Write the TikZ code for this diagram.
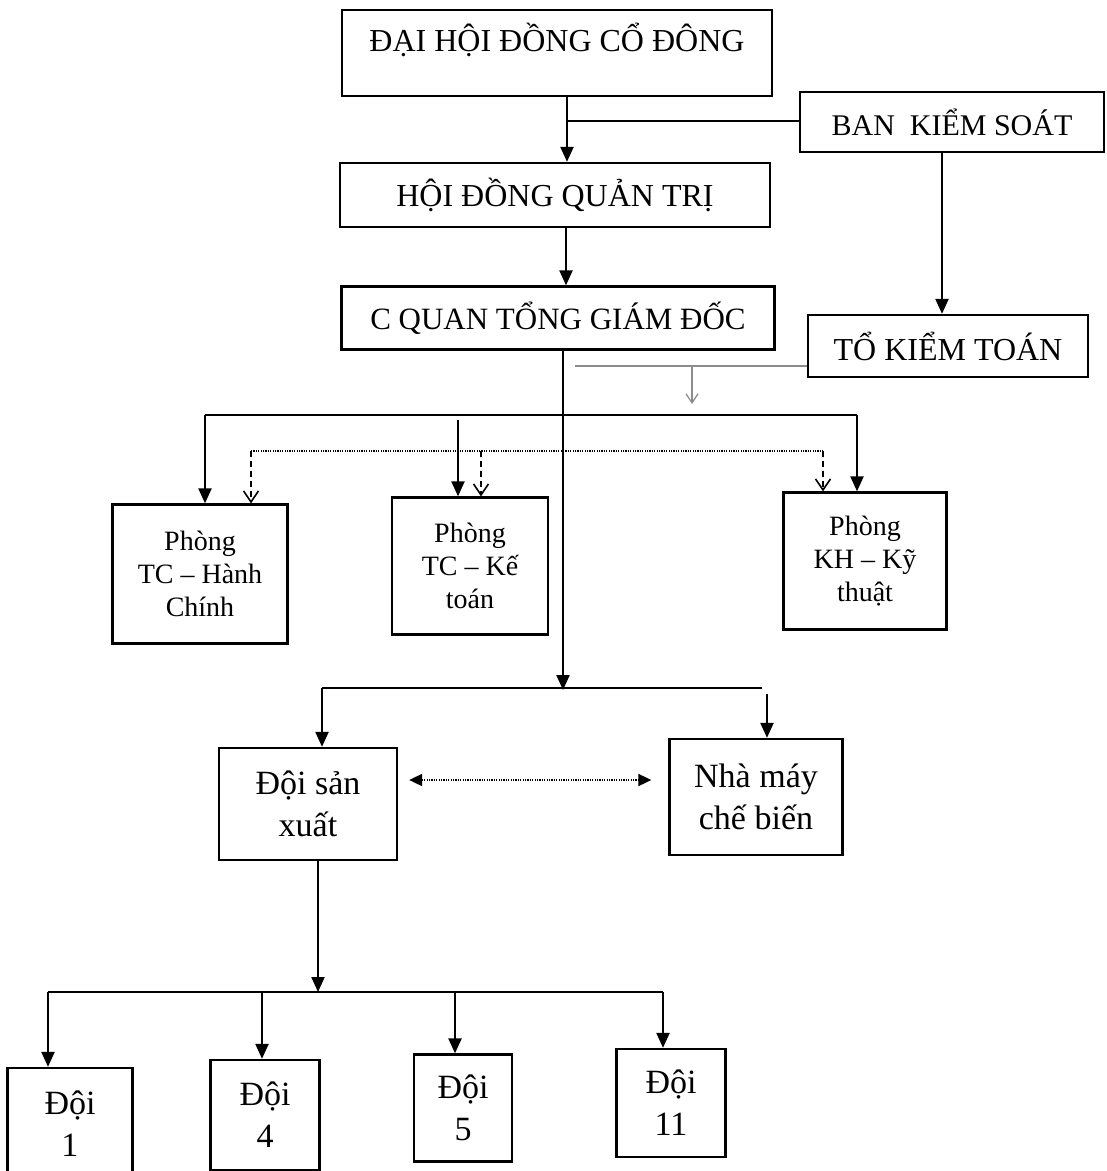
\documentclass[tikz,border=0pt]{standalone}
\usepackage{fontspec}
\setmainfont{Liberation Serif}
\usetikzlibrary{arrows.meta}
\begin{document}
\begin{tikzpicture}[x=1pt,y=-1pt,
  box/.style={draw, line width=2.3pt, inner sep=0pt, align=center},
  ln/.style={line width=2.2pt},
  arr/.style={line width=2.2pt, -{Triangle[length=15pt,width=13pt]}},
  dsh/.style={line width=1.6pt, dash pattern=on 6pt off 4pt, -{Straight Barb[length=11pt,width=15pt,line width=1.6pt]}},
  dotl/.style={line width=1.8pt, dash pattern=on 1.2pt off 1.2pt},
  graylink/.style={draw=black!45, line width=1.3pt},
  big/.style={font=\fontsize{32}{38}\selectfont},
  mid/.style={font=\fontsize{28}{33}\selectfont},
  doi/.style={font=\fontsize{34}{42}\selectfont},
]
\useasboundingbox (0,0) rectangle (1107,1171);

% boxes
\node[box, minimum width=430pt, minimum height=86pt] (dh) at (557,53) {};
\node[big] (dht) at (557,40) {ĐẠI HỘI ĐỒNG CỔ ĐÔNG};
\node[box, minimum width=304pt, minimum height=60pt, font=\fontsize{30}{36}\selectfont] (bks) at (952,122) {BAN\ \ KIỂM SOÁT};
\node[box, big, minimum width=430pt, minimum height=64pt] (hd) at (555,195) {HỘI ĐỒNG QUẢN TRỊ};
\node[box, minimum width=433pt, minimum height=63pt, font=\fontsize{31}{36}\selectfont] (cq) at (558,318) {C QUAN TỔNG GIÁM ĐỐC};
\node[box, big, minimum width=280pt, minimum height=62pt] (tkt) at (948,346) {TỔ KIỂM TOÁN};

\node[box, mid, minimum width=175pt, minimum height=139pt] (p1) at (200,574) {Phòng\\TC – Hành\\Chính};
\node[box, mid, minimum width=156pt, minimum height=137pt] (p2) at (470,566) {Phòng\\TC – Kế\\toán};
\node[box, mid, minimum width=163pt, minimum height=137pt] (p3) at (865,561) {Phòng\\KH – Kỹ\\thuật};

\node[box, doi, minimum width=178pt, minimum height=112pt] (ds) at (308,804) {Đội sản\\xuất};
\node[box, doi, minimum width=173pt, minimum height=116pt] (nm) at (756,797) {Nhà máy\\chế biến};

\node[box, doi, minimum width=125pt, minimum height=112pt] (d1) at (70,1124) {Đội\\1};
\node[box, doi, minimum width=109pt, minimum height=110pt] (d4) at (265,1115) {Đội\\4};
\node[box, doi, minimum width=98pt, minimum height=107pt] (d5) at (463,1108) {Đội\\5};
\node[box, doi, minimum width=109pt, minimum height=108pt] (d11) at (671,1103) {Đội\\11};

% top connectors
\coordinate (j1) at (567,121);
\draw[arr] (dh.south -| j1) -- (hd.north -| j1);
\draw[ln] (bks.west |- j1) -- (j1);
\coordinate (k1) at (942,0);
\draw[arr] (bks.south -| k1) -- (tkt.north -| k1);
\coordinate (j2) at (566,0);
\draw[arr] (hd.south -| j2) -- (cq.north -| j2);

% audit gray link
\coordinate (g1) at (575,366);
\coordinate (g2) at (692,366);
\coordinate (g3) at (692,404);
\draw[graylink] (tkt.west |- g1) -- (g1);
\draw[graylink, -{Straight Barb[length=9pt,width=12pt]}] (g2) -- (g3);

% main trunk
\coordinate (t0) at (563,0);
\coordinate (t1) at (563,690);
\draw[arr] (cq.south -| t0) -- (t1);

% departments bus
\coordinate (b1) at (205,415);
\coordinate (b2) at (857,415);
\coordinate (b3) at (458,420);
\draw[ln] (b1) -- (b2);
\draw[arr] (b1) -- (p1.north -| b1);
\draw[arr] (b3) -- (p2.north -| b3);
\draw[arr] (b2) -- (p3.north -| b2);

% dotted bus
\coordinate (c1) at (251,451);
\coordinate (c2) at (823,451);
\coordinate (c3) at (481,451);
\draw[dotl] (c1) -- (c2);
\draw[dsh] (c1) -- (p1.north -| c1);
\draw[dsh] (c3) -- (p2.north -| c3);
\draw[dsh] (c2) -- (p3.north -| c2);

% production bus
\coordinate (e1) at (322,688);
\coordinate (e2) at (762,688);
\coordinate (e3) at (767,694);
\draw[ln] (e1) -- (e2);
\draw[arr] (e1) -- (ds.north -| e1);
\draw[arr] (e3) -- (nm.north -| e3);
\draw[dotl, {Triangle[length=13pt,width=12pt]}-{Triangle[length=13pt,width=12pt]}] ([xshift=11pt]ds.east |- 0,780) -- ([xshift=-17pt]nm.west |- 0,780);

% teams bus
\coordinate (f0) at (318,992);
\draw[arr] (ds.south -| f0) -- (f0);
\coordinate (f1) at (48,992);
\coordinate (f2) at (663,992);
\coordinate (f3) at (262,992);
\coordinate (f4) at (455,992);
\draw[ln] (f1) -- (f2);
\draw[arr] (f1) -- (d1.north -| f1);
\draw[arr] (f3) -- (d4.north -| f3);
\draw[arr] (f4) -- (d5.north -| f4);
\draw[arr] (f2) -- (d11.north -| f2);
\end{tikzpicture}
\end{document}
